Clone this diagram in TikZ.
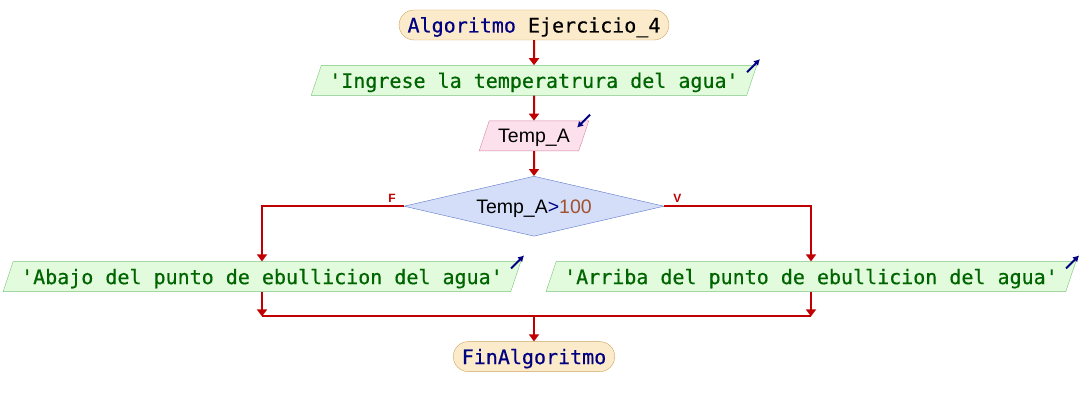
\documentclass[tikz,border=0pt]{standalone}
\usepackage{fontspec}
\setmonofont{DejaVu Sans Mono}[UprightFeatures={FakeBold=0.5}]
\setsansfont{Liberation Sans}
\usetikzlibrary{
  shapes.geometric,
  arrows.meta,
  positioning,
}
\definecolor{flowred}{HTML}{C00000}
\definecolor{kwblue}{HTML}{000080}
\definecolor{strgreen}{HTML}{006400}
\definecolor{numbrown}{HTML}{A0522D}
\definecolor{termfill}{HTML}{FCEBCB}
\definecolor{termdraw}{HTML}{CFA561}
\definecolor{outfill}{HTML}{E2FBDD}
\definecolor{outdraw}{HTML}{7CC47C}
\definecolor{infill}{HTML}{FCE1EC}
\definecolor{indraw}{HTML}{D783A3}
\definecolor{decfill}{HTML}{D4DEF8}
\definecolor{decdraw}{HTML}{5A78C8}
\tikzset{
  terminal/.style={
    rectangle,
    rounded corners=15pt,
    inner xsep=8.5pt,
    inner ysep=7.5pt,
    text height=15pt,
    text depth=0pt,
    draw=termdraw,
    fill=termfill,
    font=\ttfamily\fontsize{20}{24}\selectfont
  },
  output/.style={
    trapezium,
    trapezium left angle=71.5,
    trapezium right angle=108.5,
    inner xsep=8pt,
    inner ysep=7.5pt,
    text height=15pt,
    text depth=0pt,
    draw=outdraw,
    fill=outfill,
    text=strgreen,
    font=\ttfamily\fontsize{20}{24}\selectfont
  },
  input/.style={
    trapezium,
    trapezium left angle=71.5,
    trapezium right angle=108.5,
    inner xsep=9pt,
    inner ysep=8pt,
    text height=14pt,
    text depth=0pt,
    draw=indraw,
    fill=infill,
    font=\sffamily\fontsize{19.5}{23}\selectfont
  },
  decision/.style={
    diamond,
    aspect=4.33,
    minimum width=260pt,
    minimum height=60pt,
    inner sep=0pt,
    text height=14pt,
    text depth=0pt,
    draw=decdraw,
    fill=decfill,
    font=\sffamily\fontsize{19.5}{23}\selectfont
  },
  arrow/.style={
    flowred,
    line width=2pt,
    -{Triangle[length=7pt,width=10pt]},
  },
  flow/.style={
    flowred,
    line width=2pt,
  },
  icon/.style={
    kwblue,
    line width=2pt,
    -{Latex[length=6pt,width=7pt]},
  },
  lbl/.style={
    inner sep=0pt,
    text=flowred,
    font=\sffamily\bfseries\fontsize{12}{13}\selectfont
  },
}

\begin{document}
\begin{tikzpicture}[
    x=1pt, y=1pt,
    node distance=25pt,
  ]
  \useasboundingbox (0,0) rectangle (1080,405);

  % Main column
  \node (start) [terminal] at (534,380) {{\color{kwblue}Algoritmo} Ejercicio\_4};
  \node (ask) [output, below=of start] {'Ingrese la temperatrura del agua'};
  \node (read) [input, below=of ask] {Temp\_A};
  \node (dec) [decision, below=of read] {Temp\_A{\color{kwblue}>}{\color{numbrown}100}};

  % Branches
  \node (out_no) [output, below=of dec, xshift=-272pt] {'Abajo del punto de ebullicion del agua'};
  \node (out_si) [output, below=of dec, xshift=277pt] {'Arriba del punto de ebullicion del agua'};
  \node (lbl_f) [lbl, above left=4pt and 8pt of dec.west] {F};
  \node (lbl_v) [lbl, above right=4pt and 9pt of dec.east] {V};

  % End
  \coordinate [below=80pt of dec] (merge);
  \node (fin) [terminal, below=of merge] {\color{kwblue}FinAlgoritmo};

  % Arrows
  \draw [arrow] (start) -- (ask);
  \draw [arrow] (ask) -- (read);
  \draw [arrow] (read) -- (dec);
  \draw [arrow] (dec.west) -| (out_no);
  \draw [arrow] (dec.east) -| (out_si);
  \draw [arrow] (out_no.south) -- (out_no.south |- merge);
  \draw [arrow] (out_si.south) -- (out_si.south |- merge);
  \draw [flow] (out_no.south |- merge) -- (out_si.south |- merge);
  \draw [arrow] (merge) -- (fin);

  % In/out marks
  \draw [icon] ([shift={(-10pt,-7pt)}]ask.top right corner) -- ([shift={(3pt,6pt)}]ask.top right corner);
  \draw [icon] ([shift={(-10pt,-7pt)}]out_no.top right corner) -- ([shift={(3pt,6pt)}]out_no.top right corner);
  \draw [icon] ([shift={(-10pt,-7pt)}]out_si.top right corner) -- ([shift={(3pt,6pt)}]out_si.top right corner);
  \draw [icon] ([shift={(1pt,6pt)}]read.top right corner) -- ([shift={(-12pt,-7pt)}]read.top right corner);

\end{tikzpicture}
\end{document}
